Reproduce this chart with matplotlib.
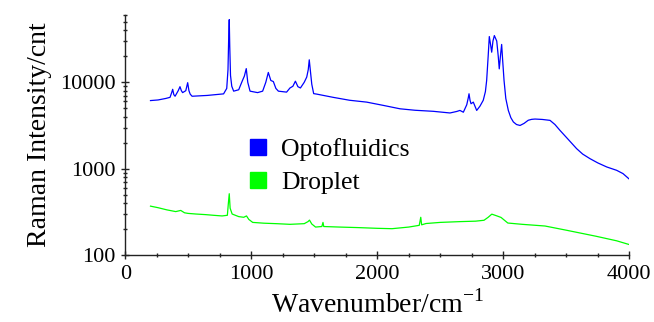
import numpy as np
import matplotlib
matplotlib.use("Agg")
import matplotlib.pyplot as plt
from matplotlib.lines import Line2D
from matplotlib.ticker import LogLocator, MultipleLocator, FixedFormatter, FixedLocator

plt.rcParams["font.family"] = ["Liberation Serif", "DejaVu Serif"]

# Optofluidics spectrum (wavenumber, intensity)
opto_wn = [200, 260, 320, 355, 368, 376, 385, 395, 420, 434, 445, 455, 480, 495, 505,
           515, 530, 650, 780, 805, 815, 820, 825, 829, 835, 845, 860, 900, 930, 945,
           960, 972, 990, 1050, 1090, 1115, 1135, 1155, 1175, 1195, 1215, 1280, 1307,
           1330, 1350, 1370, 1390, 1420, 1440, 1452, 1460, 1468, 1480, 1495, 1520,
           1650, 1780, 1916, 2050, 2180, 2300, 2444, 2577, 2630, 2656, 2683, 2710,
           2722, 2728, 2736, 2744, 2762, 2789, 2815, 2841, 2858, 2868, 2880, 2889,
           2898, 2908, 2918, 2929, 2948, 2960, 2968, 2980, 2987, 2995, 3006, 3020,
           3040, 3060, 3080, 3105, 3133, 3165, 3198, 3225, 3252, 3310, 3371, 3410,
           3450, 3520, 3582, 3630, 3688, 3750, 3821, 3900, 3950, 4000]
opto_int = [6150, 6250, 6500, 6700, 7600, 8300, 7200, 6900, 8000, 8900, 8000, 7600, 8000,
            9900, 8000, 7300, 6900, 7050, 7350, 8500, 14000, 30000, 53000, 26000, 12000,
            9000, 7900, 8200, 10500, 11800, 14400, 10000, 7900, 7600, 7900, 10000, 13000,
            10500, 10200, 8500, 7900, 7700, 8600, 9000, 10300, 8900, 8600, 10000, 11500,
            14000, 18200, 14000, 9500, 7400, 7300, 6700, 6200, 5900, 5400, 4940, 4750,
            4620, 4420, 4600, 4730, 4510, 5500, 6600, 7370, 6200, 5650, 5900, 4730, 5300,
            6200, 7800, 10500, 20000, 33800, 28000, 22300, 30000, 34700, 30000, 20000,
            14300, 22000, 27400, 18000, 10500, 6500, 4730, 3900, 3480, 3250, 3170, 3350,
            3640, 3730, 3760, 3720, 3630, 3250, 2780, 2150, 1710, 1480, 1310, 1170, 1050,
            960, 880, 760]

# Droplet spectrum
drop_wn = [200, 260, 330, 400, 440, 470, 498, 560, 640, 700, 768, 810, 818, 825, 832,
           848, 900, 940, 962, 980, 1011, 1100, 1200, 1307, 1420, 1450, 1462, 1480,
           1510, 1560, 1569, 1575, 1700, 1847, 2000, 2117, 2250, 2333, 2345, 2352,
           2387, 2500, 2656, 2780, 2847, 2880, 2909, 2950, 2982, 3036, 3150, 3331,
           3500, 3736, 3900, 4000]
drop_int = [370, 355, 335, 320, 330, 310, 305, 300, 295, 290, 285, 290, 400, 515, 350,
            300, 280, 275, 285, 260, 240, 235, 232, 228, 232, 245, 255, 230, 212, 215,
            240, 215, 212, 209, 205, 203, 212, 222, 275, 225, 233, 240, 245, 248, 254,
            275, 299, 285, 274, 236, 228, 218, 195, 166, 147, 133]

series_names = ["Optofluidics", "Droplet"]
series_colors = ["#0000ff", "#00ff00"]

fig = plt.figure(figsize=(6.54, 3.22), dpi=100)
ax = fig.add_axes([0.1916, 0.2072, 0.7706, 0.7462])

ax.plot(opto_wn, opto_int, color=series_colors[0], lw=0.9)
ax.plot(drop_wn, drop_int, color=series_colors[1], lw=0.9)

ax.set_yscale("log")
ax.set_xlim(0, 4000)
ax.set_ylim(100, 60000)

ax.spines["top"].set_visible(False)
ax.spines["right"].set_visible(False)
for s in ["left", "bottom"]:
    ax.spines[s].set_color("#222222")
    ax.spines[s].set_linewidth(1.0)

ax.xaxis.set_major_locator(MultipleLocator(1000))
ax.xaxis.set_minor_locator(MultipleLocator(250))
ax.yaxis.set_major_locator(FixedLocator([100, 1000, 10000]))
ax.yaxis.set_major_formatter(FixedFormatter(["100", "1000", "10000"]))
ax.yaxis.set_minor_locator(LogLocator(base=10, subs=np.arange(2, 10)))
ax.yaxis.set_minor_formatter(plt.NullFormatter())

ax.tick_params(which="major", direction="inout", length=6, width=1, labelsize=16,
               color="#222222", pad=4)
ax.tick_params(which="minor", direction="inout", length=3.5, width=1, color="#222222")

ax.set_xlabel("Wavenumber/cm$^{\\mathregular{-1}}$", fontsize=20, labelpad=4)
ax.set_ylabel("Raman Intensity/cnt", fontsize=20, labelpad=6)

handles = [Line2D([], [], ls="none", marker="s", markersize=11.5, color=c) for c in series_colors]
ax.legend(handles, series_names, loc="upper left", bbox_to_anchor=(0.217, 0.542),
          frameon=False, fontsize=18.5, handlelength=0.8, handletextpad=0.5,
          labelspacing=0.4, borderpad=0)

fig.savefig("out.png", dpi=100)
